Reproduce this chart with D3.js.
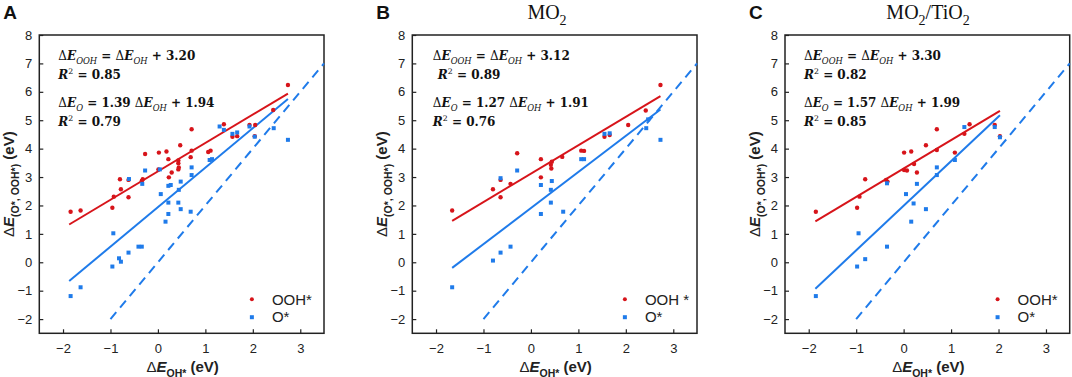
<!DOCTYPE html>
<html>
<head>
<meta charset="utf-8">
<script src="https://cdn.jsdelivr.net/npm/d3@7"></script>
<style>
body{margin:0;background:#fff;}
</style>
</head>
<body>
<div id="chart"></div>
<script>
// axis ticks
var xTicks = [-2, -1, 0, 1, 2, 3];
var yTicks = [-2, -1, 0, 1, 2, 3, 4, 5, 6, 7, 8];

var panelLetters = ["A", "B", "C"];
var legendNames = [["OOH*", "O*"], ["OOH *", "O*"], ["OOH*", "O*"]];

// linear fits
var oohSlopes = [1, 1, 1];
var oohIntercepts = ["3.20", "3.12", "3.30"];
var oSlopes = ["1.39", "1.27", "1.57"];
var oIntercepts = ["1.94", "1.91", "1.99"];
var r2Ooh = ["0.85", "0.89", "0.82"];
var r2O = ["0.79", "0.76", "0.85"];
var fitRanges = [[-1.87, 2.74], [-1.66, 2.73], [-1.86, 2.03]];
// scaling relation dE_O = 2 dE_OH
var scalingSlope = 2;
var scalingRange = [-1, 3.5];

// panel A points
var oohA = [[-1.84,1.78],[-1.63,1.82],[-0.96,1.92],[-0.93,2.31],[-0.80,2.92],[-0.78,2.57],[-0.62,2.90],[-0.62,2.29],
  [-0.34,2.86],[-0.32,2.92],[-0.27,3.81],[0.01,3.27],[0.02,3.86],[0.18,3.90],[0.22,3.63],[0.29,3.16],[0.23,2.99],
  [0.43,3.49],[0.44,3.34],[0.43,3.58],[0.47,4.12],[0.43,3.27],[0.69,3.70],[0.71,3.93],[0.71,4.68],[1.06,3.88],
  [1.11,3.93],[1.39,4.86],[1.57,4.42],[1.67,4.44],[1.93,4.83],[2.05,4.83],[2.04,4.44],[2.43,5.36],[2.74,6.24]];
var oA = [[-1.84,-1.19],[-1.63,-0.88],[-0.94,1.02],[-0.96,-0.15],[-0.82,0.14],[-0.78,0.02],[-0.62,0.34],[-0.41,0.55],
  [-0.34,0.55],[-0.61,2.93],[-0.33,2.76],[-0.27,3.23],[0.04,3.27],[0.06,2.40],[0.22,2.69],[0.27,2.72],[0.22,2.10],
  [0.22,1.70],[0.16,1.43],[0.43,2.10],[0.48,1.87],[0.48,2.84],[0.44,2.55],[0.69,1.78],[0.71,3.07],[0.71,3.34],
  [1.09,3.60],[1.14,3.63],[1.30,4.78],[1.39,4.66],[1.57,4.52],[1.67,4.57],[1.93,4.78],[2.04,4.42],[2.44,4.72],[2.74,4.31]];

// panel B points (MO2)
var oohB = [[-1.66,1.82],[-0.80,2.57],[-0.64,2.90],[-0.64,2.29],[-0.43,2.76],[-0.29,3.84],[0.21,3.63],[0.21,2.99],
  [0.42,3.43],[0.43,3.30],[0.44,3.54],[0.66,3.71],[1.06,3.93],[1.12,3.92],[1.55,4.42],[1.66,4.48],[2.05,4.83],
  [2.42,5.34],[2.73,6.24]];
var oB = [[-1.66,-0.88],[-0.80,0.06],[-0.64,0.34],[-0.43,0.55],[-0.64,2.96],[-0.29,3.23],[0.21,2.72],[0.21,1.70],
  [0.44,2.86],[0.42,2.55],[0.42,2.10],[0.68,1.78],[1.06,3.63],[1.12,3.63],[1.55,4.52],[1.66,4.54],[2.43,4.72],
  [2.47,5.03],[2.73,4.31]];

// panel C points (MO2/TiO2)
var oohC = [[-1.85,1.78],[-0.98,1.92],[-0.93,2.31],[-0.81,2.92],[-0.37,2.90],[-0.34,2.84],[0.01,3.86],[0.16,3.90],
  [0.01,3.25],[0.07,3.23],[0.22,3.46],[0.28,3.16],[0.47,4.12],[0.70,4.68],[0.70,3.95],[1.08,3.86],[1.28,4.52],
  [1.39,4.86],[1.92,4.83],[2.03,4.44]];
var oC = [[-1.85,-1.19],[-0.95,1.02],[-0.98,-0.15],[-0.81,0.11],[-0.35,0.55],[-0.35,2.78],[0.05,2.40],[0.21,2.07],
  [0.16,1.43],[0.28,2.76],[0.47,1.87],[0.70,3.34],[0.70,3.07],[1.08,3.60],[1.28,4.76],[1.92,4.76],[2.03,4.40]];

var oohPoints = [oohA, oohB, oohC];
var oPoints = [oA, oB, oC];

var red = "#d7141a";
var blue = "#1f7bea";
var sansFont = "'Liberation Sans', Arial, sans-serif";
var serifFont = "'Liberation Serif', 'Times New Roman', serif";
var mathFont = "'DejaVu Serif', serif";

var svg = d3.select("#chart").append("svg")
  .attr("width", 1072)
  .attr("height", 377)
  .style("font-family", sansFont);

// writes a list of [text, style] pieces into a text element
function rich(t, parts, baseSize){
  var shift = 0;
  parts.forEach(function(p){
    var s = p[1] || "";
    var ts = t.append("tspan").text(p[0]);
    var want = 0;
    if(s.indexOf("sub") >= 0){ want = baseSize*0.3; ts.attr("font-size", baseSize*0.7); }
    if(s.indexOf("sup") >= 0){ want = -baseSize*0.38; ts.attr("font-size", baseSize*0.65); }
    if(want != shift){ ts.attr("dy", want - shift); shift = want; }
    if(s.indexOf("i") >= 0) ts.attr("font-style", "italic");
    if(s.indexOf("n") >= 0) ts.attr("font-weight", "normal");
  });
}

var panelLeft = [39.3, 412.3, 785];
var plotW = 284.7, plotTop = 35, plotBottom = 333.3;

panelLetters.forEach(function(letter, p){
  var x = d3.scaleLinear().domain([-2.5, 3.5]).range([panelLeft[p], panelLeft[p] + plotW]);
  var y = d3.scaleLinear().domain([-2.5, 8]).range([plotBottom, plotTop]);
  var g = svg.append("g").attr("class", "panel" + letter);

  // axes
  var xAxis = g.append("g")
    .attr("transform", "translate(0," + plotBottom + ")")
    .call(d3.axisBottom(x).tickValues(xTicks).tickSize(-4).tickPadding(10).tickFormat(d3.format("d")));
  var yAxis = g.append("g")
    .attr("transform", "translate(" + panelLeft[p] + ",0)")
    .call(d3.axisLeft(y).tickValues(yTicks).tickSize(-4).tickPadding(7).tickFormat(d3.format("d")));
  [xAxis, yAxis].forEach(function(a){
    a.select(".domain").remove();
    a.selectAll("line").attr("stroke", "#222").attr("stroke-width", 1.2);
    a.selectAll("text").attr("font-size", 13).attr("fill", "#222")
      .attr("font-family", sansFont);
  });

  g.append("rect")
    .attr("x", panelLeft[p]).attr("y", plotTop)
    .attr("width", plotW).attr("height", plotBottom - plotTop)
    .attr("fill", "none").attr("stroke", "#222").attr("stroke-width", 1.5);

  // scaling line
  g.append("line")
    .attr("x1", x(scalingRange[0])).attr("y1", y(scalingSlope*scalingRange[0]))
    .attr("x2", x(scalingRange[1])).attr("y2", y(scalingSlope*scalingRange[1]))
    .attr("stroke", blue).attr("stroke-width", 2).attr("stroke-dasharray", "9,6");

  // fit lines
  var r = fitRanges[p];
  g.append("line")
    .attr("x1", x(r[0])).attr("y1", y(oohSlopes[p]*r[0] + (+oohIntercepts[p])))
    .attr("x2", x(r[1])).attr("y2", y(oohSlopes[p]*r[1] + (+oohIntercepts[p])))
    .attr("stroke", red).attr("stroke-width", 2);
  g.append("line")
    .attr("x1", x(r[0])).attr("y1", y(oSlopes[p]*r[0] + (+oIntercepts[p])))
    .attr("x2", x(r[1])).attr("y2", y(oSlopes[p]*r[1] + (+oIntercepts[p])))
    .attr("stroke", blue).attr("stroke-width", 2);

  // points
  g.selectAll(".ooh").data(oohPoints[p]).enter().append("circle")
    .attr("class", "ooh")
    .attr("cx", function(d){ return x(d[0]); })
    .attr("cy", function(d){ return y(d[1]); })
    .attr("r", 2.2).attr("fill", red);
  g.selectAll(".o").data(oPoints[p]).enter().append("rect")
    .attr("class", "o")
    .attr("x", function(d){ return x(d[0]) - 2; })
    .attr("y", function(d){ return y(d[1]) - 2; })
    .attr("width", 4).attr("height", 4).attr("fill", blue);

  // legend
  var lx = x(1.98), ly = y(-1.3);
  g.append("circle").attr("cx", lx).attr("cy", ly).attr("r", 2).attr("fill", red);
  g.append("rect").attr("x", lx - 2).attr("y", ly + 16).attr("width", 4).attr("height", 4).attr("fill", blue);
  g.append("text").attr("x", lx + 20).attr("y", ly + 5.5).attr("font-size", 15).attr("fill", "#222").text(legendNames[p][0]);
  g.append("text").attr("x", lx + 20).attr("y", ly + 23).attr("font-size", 15).attr("fill", "#222").text(legendNames[p][1]);

  // equations
  var ex = panelLeft[p] + 19 + (p == 1 ? 1.5 : 0);
  var eqs = [
    [["\u0394", "n"], ["E", "i"], ["OOH", "sub i n"], [" = "], ["\u0394", "n"], ["E", "i"], ["OH", "sub i n"], [" + " + oohIntercepts[p]]],
    [["R", "i"], ["2", "sup n"], [" = " + r2Ooh[p]]],
    [["\u0394", "n"], ["E", "i"], ["O", "sub i n"], [" = " + oSlopes[p] + " "], ["\u0394", "n"], ["E", "i"], ["OH", "sub i n"], [" + " + oIntercepts[p]]],
    [["R", "i"], ["2", "sup n"], [" = " + r2O[p]]]
  ];
  var eqY = [60, 79, 107, 126];
  eqs.forEach(function(parts, k){
    var t = g.append("text")
      .attr("x", ex + (p == 1 && k == 1 ? 5 : 0)).attr("y", eqY[k])
      .style("font-family", mathFont).attr("font-weight", "bold")
      .attr("font-size", 12).attr("fill", "#111");
    rich(t, parts, 12);
  });

  // axis titles
  var xt = g.append("text")
    .attr("x", panelLeft[p] + plotW/2 + 1).attr("y", 372)
    .attr("text-anchor", "middle").attr("font-size", 15).attr("font-weight", "bold").attr("fill", "#222");
  rich(xt, [["\u0394", "n"], ["E", "i"], ["OH*", "sub"], [" (eV)"]], 15);

  var cx = panelLeft[p] - 25;
  var yt = g.append("text")
    .attr("transform", "translate(" + cx + "," + ((plotTop + plotBottom)/2) + ") rotate(-90)")
    .attr("text-anchor", "middle").attr("font-size", 15).attr("font-weight", "bold").attr("fill", "#222");
  rich(yt, [["\u0394", "n"], ["E", "i"], ["(O*, OOH*)", "sub"], [" (eV)"]], 15);

  // panel letter
  svg.append("text")
    .attr("x", panelLeft[p] - 36).attr("y", 19)
    .attr("font-size", 19).attr("font-weight", "bold").attr("fill", "#111")
    .text(letter);
});

// panel titles
var t1 = svg.append("text").attr("x", 547).attr("y", 19).attr("text-anchor", "middle")
  .style("font-family", serifFont).attr("font-size", 20).attr("fill", "#111");
rich(t1, [["MO"], ["2", "sub"]], 20);
var t2 = svg.append("text").attr("x", 928).attr("y", 19).attr("text-anchor", "middle")
  .style("font-family", serifFont).attr("font-size", 20).attr("fill", "#111");
rich(t2, [["MO"], ["2", "sub"], ["/TiO"], ["2", "sub"]], 20);
</script>
</body>
</html>
